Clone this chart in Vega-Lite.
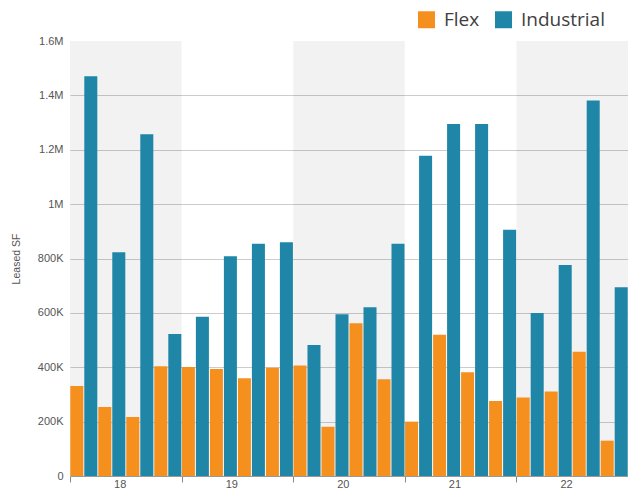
{
  "$schema": "https://vega.github.io/schema/vega-lite/v6.json",
  "autosize": {"type": "none"},
  "padding": {"left": 70, "top": 41, "right": 0, "bottom": 17},
  "width": 558,
  "height": 435,
  "background": "white",
  "config": {
    "view": {"stroke": null},
    "font": "Liberation Sans",
    "axis": {"labelFont": "Liberation Sans", "titleFont": "Liberation Sans"}
  },
  "layer": [
    {
      "data": {"values": [{"year": "18"}, {"year": "20"}, {"year": "22"}]},
      "mark": {"type": "rect", "color": "#000000", "opacity": 0.05},
      "encoding": {
        "x": {"field": "year", "type": "ordinal"},
        "y": {"value": 0},
        "y2": {"value": "height"}
      }
    },
    {
      "data": {
        "values": [
          {"year": "18", "quarter": "Q1", "type": "Flex", "bar": "Q1 Flex", "value": 331000},
          {"year": "18", "quarter": "Q1", "type": "Industrial", "bar": "Q1 Industrial", "value": 1470000},
          {"year": "18", "quarter": "Q2", "type": "Flex", "bar": "Q2 Flex", "value": 254000},
          {"year": "18", "quarter": "Q2", "type": "Industrial", "bar": "Q2 Industrial", "value": 823000},
          {"year": "18", "quarter": "Q3", "type": "Flex", "bar": "Q3 Flex", "value": 217000},
          {"year": "18", "quarter": "Q3", "type": "Industrial", "bar": "Q3 Industrial", "value": 1257000},
          {"year": "18", "quarter": "Q4", "type": "Flex", "bar": "Q4 Flex", "value": 404000},
          {"year": "18", "quarter": "Q4", "type": "Industrial", "bar": "Q4 Industrial", "value": 522000},
          {"year": "19", "quarter": "Q1", "type": "Flex", "bar": "Q1 Flex", "value": 401000},
          {"year": "19", "quarter": "Q1", "type": "Industrial", "bar": "Q1 Industrial", "value": 586000},
          {"year": "19", "quarter": "Q2", "type": "Flex", "bar": "Q2 Flex", "value": 394000},
          {"year": "19", "quarter": "Q2", "type": "Industrial", "bar": "Q2 Industrial", "value": 808000},
          {"year": "19", "quarter": "Q3", "type": "Flex", "bar": "Q3 Flex", "value": 360000},
          {"year": "19", "quarter": "Q3", "type": "Industrial", "bar": "Q3 Industrial", "value": 854000},
          {"year": "19", "quarter": "Q4", "type": "Flex", "bar": "Q4 Flex", "value": 398000},
          {"year": "19", "quarter": "Q4", "type": "Industrial", "bar": "Q4 Industrial", "value": 860000},
          {"year": "20", "quarter": "Q1", "type": "Flex", "bar": "Q1 Flex", "value": 406000},
          {"year": "20", "quarter": "Q1", "type": "Industrial", "bar": "Q1 Industrial", "value": 482000},
          {"year": "20", "quarter": "Q2", "type": "Flex", "bar": "Q2 Flex", "value": 181000},
          {"year": "20", "quarter": "Q2", "type": "Industrial", "bar": "Q2 Industrial", "value": 595000},
          {"year": "20", "quarter": "Q3", "type": "Flex", "bar": "Q3 Flex", "value": 562000},
          {"year": "20", "quarter": "Q3", "type": "Industrial", "bar": "Q3 Industrial", "value": 621000},
          {"year": "20", "quarter": "Q4", "type": "Flex", "bar": "Q4 Flex", "value": 356000},
          {"year": "20", "quarter": "Q4", "type": "Industrial", "bar": "Q4 Industrial", "value": 854000},
          {"year": "21", "quarter": "Q1", "type": "Flex", "bar": "Q1 Flex", "value": 200000},
          {"year": "21", "quarter": "Q1", "type": "Industrial", "bar": "Q1 Industrial", "value": 1178000},
          {"year": "21", "quarter": "Q2", "type": "Flex", "bar": "Q2 Flex", "value": 520000},
          {"year": "21", "quarter": "Q2", "type": "Industrial", "bar": "Q2 Industrial", "value": 1295000},
          {"year": "21", "quarter": "Q3", "type": "Flex", "bar": "Q3 Flex", "value": 382000},
          {"year": "21", "quarter": "Q3", "type": "Industrial", "bar": "Q3 Industrial", "value": 1295000},
          {"year": "21", "quarter": "Q4", "type": "Flex", "bar": "Q4 Flex", "value": 276000},
          {"year": "21", "quarter": "Q4", "type": "Industrial", "bar": "Q4 Industrial", "value": 906000},
          {"year": "22", "quarter": "Q1", "type": "Flex", "bar": "Q1 Flex", "value": 289000},
          {"year": "22", "quarter": "Q1", "type": "Industrial", "bar": "Q1 Industrial", "value": 600000},
          {"year": "22", "quarter": "Q2", "type": "Flex", "bar": "Q2 Flex", "value": 311000},
          {"year": "22", "quarter": "Q2", "type": "Industrial", "bar": "Q2 Industrial", "value": 776000},
          {"year": "22", "quarter": "Q3", "type": "Flex", "bar": "Q3 Flex", "value": 457000},
          {"year": "22", "quarter": "Q3", "type": "Industrial", "bar": "Q3 Industrial", "value": 1381000},
          {"year": "22", "quarter": "Q4", "type": "Flex", "bar": "Q4 Flex", "value": 130000},
          {"year": "22", "quarter": "Q4", "type": "Industrial", "bar": "Q4 Industrial", "value": 694000}
        ]
      },
      "mark": {"type": "bar"},
      "encoding": {
        "x": {
          "field": "year",
          "type": "ordinal",
          "scale": {"paddingInner": 0, "paddingOuter": 0},
          "axis": {
            "title": null,
            "labelAngle": 0,
            "tickBand": "extent",
            "tickSize": 6,
            "tickColor": "#888888",
            "domainColor": "#999999",
            "labelColor": "#555555",
            "labelFontSize": 11,
            "labelPadding": 2,
            "grid": false
          }
        },
        "xOffset": {
          "field": "bar",
          "type": "nominal",
          "scale": {"paddingInner": 0.07, "paddingOuter": 0.02}
        },
        "y": {
          "field": "value",
          "type": "quantitative",
          "scale": {"domain": [0, 1600000], "nice": false},
          "axis": {
            "title": "Leased SF",
            "titleFontSize": 10.5,
            "titleFontWeight": "normal",
            "titleColor": "#555555",
            "titleX": -49,
            "values": [0, 200000, 400000, 600000, 800000, 1000000, 1200000, 1400000, 1600000],
            "labelExpr": "replace(format(datum.value, '~s'), 'k', 'K')",
            "labelFontSize": 11,
            "labelColor": "#555555",
            "labelPadding": 7,
            "ticks": false,
            "domain": false,
            "grid": true,
            "gridColor": "#cccccc",
            "gridOpacity": {"condition": {"test": "datum.value === 1600000 || datum.value === 0", "value": 0}, "value": 1}
          }
        },
        "color": {
          "field": "type",
          "type": "nominal",
          "scale": {"domain": ["Flex", "Industrial"], "range": ["#F5901F", "#1F86A8"]},
          "legend": {
            "title": null,
            "orient": "none",
            "direction": "horizontal",
            "legendX": 347,
            "legendY": -31,
            "padding": 0,
            "symbolType": "square",
            "symbolSize": 289,
            "symbolStrokeWidth": 0,
            "symbolOpacity": 1,
            "labelFont": "Open Sans",
            "labelFontSize": 19,
            "labelColor": "#404040",
            "labelOffset": 8,
            "columnPadding": 14
          }
        }
      }
    }
  ]
}
